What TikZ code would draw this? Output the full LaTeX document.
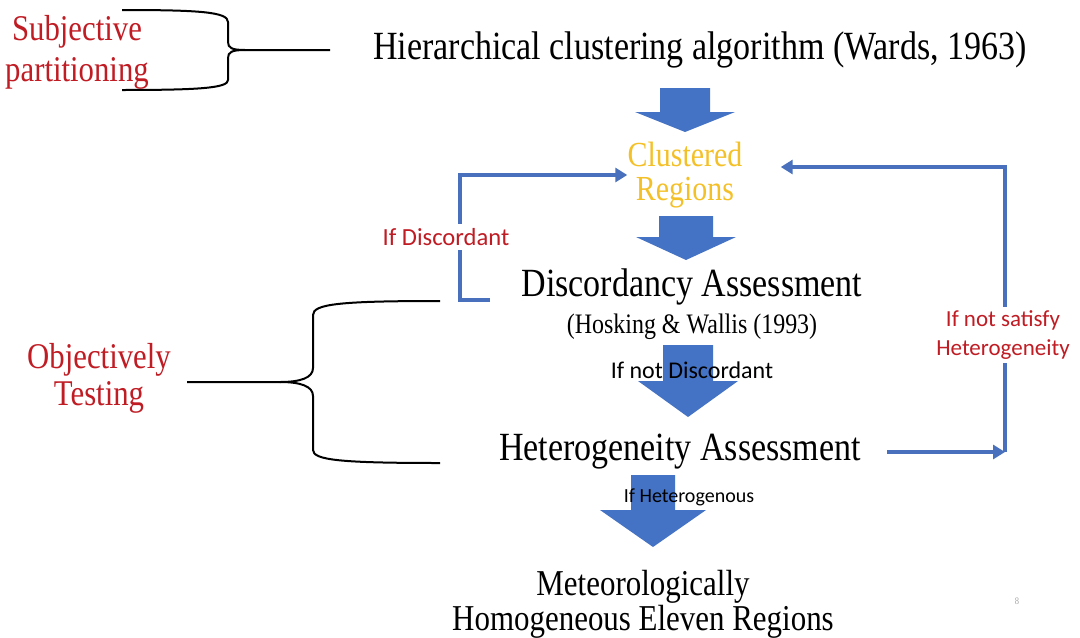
\documentclass[tikz,border=0pt]{standalone}
\usepackage{fontspec}
\setmainfont{Liberation Serif}[FakeStretch=0.85]
\newfontfamily\calib{Carlito}
\usetikzlibrary{arrows.meta}

\definecolor{flowblue}{RGB}{68,114,196}
\definecolor{lineblue}{RGB}{72,112,188}
\definecolor{notered}{RGB}{192,28,36}
\definecolor{clugold}{RGB}{244,192,40}

\begin{document}
\begin{tikzpicture}[x=0.5pt, y=-0.5pt,
  every node/.style={inner sep=0pt, align=center},
  big/.style={font=\fontsize{20}{23}\selectfont},
  side/.style={text=notered, font=\fontsize{18.1}{18.5}\selectfont},
  cond/.style={font=\calib\fontsize{12}{14.5}\selectfont},
  blk/.style={fill=flowblue},
  brace/.style={draw=black, line width=1pt},
  fb/.style={draw=lineblue, line width=2pt, -{Triangle[length=6pt,width=7pt]}},
  gap/.style={fill=white, inner sep=2pt}]

\useasboundingbox (0,0) rectangle (1080,637);

% Block arrows
\foreach \cx/\ty/\hy/\py/\sw/\hw in {685/88/112/132/25/50, 686/216/237/260/27/50,
                                     688/345/381/417/25/50, 653/475/510/547/22/53}
{
\fill[blk] (\cx-\sw,\ty) -- (\cx+\sw,\ty) -- (\cx+\sw,\hy) -- (\cx+\hw,\hy)
  -- (\cx,\py) -- (\cx-\hw,\hy) -- (\cx-\sw,\hy) -- cycle;
}

% Main steps
\node[big] (hca) at (700,50) {Hierarchical clustering algorithm (Wards, 1963)};
\node[text=clugold, font=\fontsize{17.6}{17}\selectfont] (clu) at (685,175) {Clustered\\Regions};
\node[big] (disc) at (692,287) {Discordancy Assessment};
\node[font=\fontsize{14.1}{16}\selectfont] (hosk) at (692,327) {(Hosking \& Wallis (1993)};
\node[big] (het) at (680,452) {Heterogeneity Assessment};
\node[font=\fontsize{18.2}{16.5}\selectfont] (meteo) at (643,604) {Meteorologically\\Homogeneous Eleven Regions};

% Labels on block arrows
\node[cond] (notdisc) at (692,370) {If not Discordant};
\node[cond, font=\calib\fontsize{10}{12}\selectfont] (ifhet) at (689,497) {If Heterogenous};

% Side notes
\node[side, font=\fontsize{18.1}{20.5}\selectfont] (subj) at (77,52) {Subjective\\partitioning};
\node[side] (obj) at (99,378) {Objectively\\Testing};

% Braces
\draw[brace] (122,10) .. controls (200,10) and (228,12) .. (228,22) -- (228,42)
  .. controls (228,48) and (232,50) .. (245,50) -- (330,50);
\draw[brace] (245,50) .. controls (232,50) and (228,52) .. (228,58) -- (228,80)
  .. controls (228,88) and (200,90) .. (122,90);
\draw[brace] (440,301) .. controls (340,301) and (313,304) .. (313,315) -- (313,368)
  .. controls (313,378) and (300,382) .. (280,382) -- (187,382);
\draw[brace] (280,382) .. controls (300,382) and (313,386) .. (313,396) -- (313,450)
  .. controls (313,460) and (340,463) .. (440,463);

% If discordant loop
\coordinate (dstub) at (490,300);
\draw[fb] (dstub) -- (460,300) |- (clu.west);
\node[cond, gap, text=notered, font=\calib\fontsize{12.3}{14.5}\selectfont] (ifdisc) at (446,237) {If Discordant};

% If not satisfy loop
\coordinate (rcorner) at (1005,452);
\coordinate (rtop) at (1005,167);
\draw[fb, shorten <=13pt] (het.east) -- (rcorner);
\draw[fb, shorten >=19pt] (rcorner) -- (rtop) -- (clu.east |- rtop);
\node[cond, gap, text=notered, font=\calib\fontsize{11.5}{14.5}\selectfont] (notsat) at (1003,335) {If not satisfy\\Heterogeneity};

% Page number
\node[text=gray!70, font=\fontsize{5}{6}\selectfont] (pnum) at (1017,601) {8};

\end{tikzpicture}
\end{document}
